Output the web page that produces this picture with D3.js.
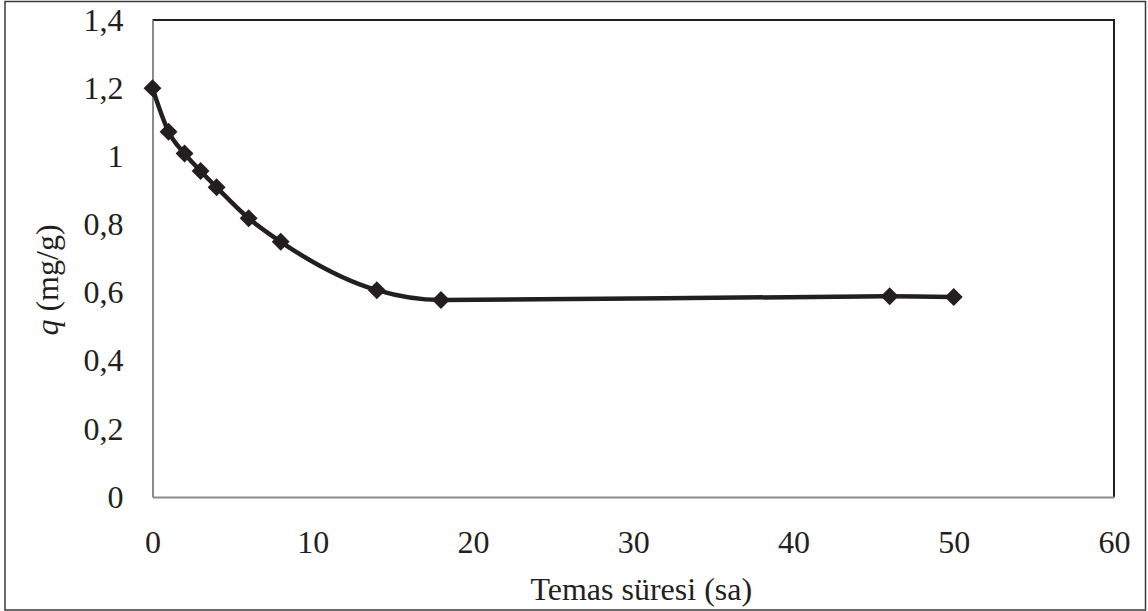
<!DOCTYPE html>
<html>
<head>
<meta charset="utf-8">
<script src="https://cdn.jsdelivr.net/npm/d3@7"></script>
<style>
  body { margin: 0; background: #fff; }
  text { font-family: "Liberation Serif", "Times New Roman", serif; fill: #231f20; }
</style>
</head>
<body>
<div id="chart"></div>
<script>
// contact time (h) and adsorbed amount q (mg/g)
const hours = [0, 1, 2, 3, 4, 6, 8, 14, 18, 46, 50];
const qValues = [1.2, 1.072, 1.008, 0.957, 0.909, 0.818, 0.749, 0.607, 0.578, 0.589, 0.587];
const xTicks = [0, 10, 20, 30, 40, 50, 60];
const yTicks = [0, 0.2, 0.4, 0.6, 0.8, 1, 1.2, 1.4];

const width = 1148, height = 611;
const margin = { left: 152.5, right: 34, top: 20, bottom: 114 };
const ink = "#231f20";
const fontSize = 32;

const svg = d3.select("#chart").append("svg")
  .attr("width", width)
  .attr("height", height);

// outer frame
svg.append("rect")
  .attr("x", 5).attr("y", 1.5)
  .attr("width", width - 7.5).attr("height", height - 2.5)
  .attr("fill", "none").attr("stroke", "#3a3a3a").attr("stroke-width", 1.5);

const x = d3.scaleLinear().domain([0, 60]).range([margin.left, width - margin.right]);
const y = d3.scaleLinear().domain([0, 1.4]).range([height - margin.bottom, margin.top]);

// plot area border (top / right dark)
svg.append("path")
  .attr("d", `M${x(0)},${y(1.4)}H${x(60)}V${y(0)}`)
  .attr("fill", "none").attr("stroke", ink).attr("stroke-width", 2);

const fmt = d => String(d).replace(".", ",");

const xAxis = svg.append("g")
  .attr("transform", `translate(0,${y(0)})`)
  .call(d3.axisBottom(x).tickValues(xTicks).tickSize(0).tickPadding(33).tickFormat(fmt));
xAxis.select(".domain").attr("stroke", "#8a8a8a").attr("stroke-width", 2);
xAxis.selectAll("text").attr("font-size", fontSize).attr("font-family", "Liberation Serif").attr("fill", ink);

const yAxis = svg.append("g")
  .attr("transform", `translate(${x(0)},0)`)
  .call(d3.axisLeft(y).tickValues(yTicks).tickSize(0).tickPadding(29).tickFormat(fmt));
yAxis.select(".domain").attr("stroke", "#8a8a8a").attr("stroke-width", 2);
yAxis.selectAll("text").attr("font-size", fontSize).attr("font-family", "Liberation Serif").attr("fill", ink);

// axis titles
svg.append("text")
  .attr("x", (x(0) + x(60)) / 2 + 8)
  .attr("y", 600)
  .attr("text-anchor", "middle")
  .attr("font-size", fontSize)
  .text("Temas süresi (sa)");

const yTitle = svg.append("text")
  .attr("transform", `translate(58,280) rotate(-90)`)
  .attr("text-anchor", "middle")
  .attr("font-size", fontSize);
yTitle.append("tspan").attr("font-style", "italic").text("q");
yTitle.append("tspan").text(" (mg/g)");

const pts = hours.map((h, i) => [h, qValues[i]]);

const line = d3.line()
  .x(d => x(d[0]))
  .y(d => y(d[1]))
  .curve(d3.curveMonotoneX);

svg.append("path")
  .datum(pts)
  .attr("d", line)
  .attr("fill", "none")
  .attr("stroke", ink)
  .attr("stroke-width", 4.5);

const diamond = d3.symbol().type(d3.symbolSquare).size(160);
svg.selectAll(".pt")
  .data(pts)
  .enter()
  .append("path")
  .attr("class", "pt")
  .attr("d", diamond)
  .attr("transform", d => `translate(${x(d[0])},${y(d[1])}) rotate(45)`)
  .attr("fill", ink);
</script>
</body>
</html>
